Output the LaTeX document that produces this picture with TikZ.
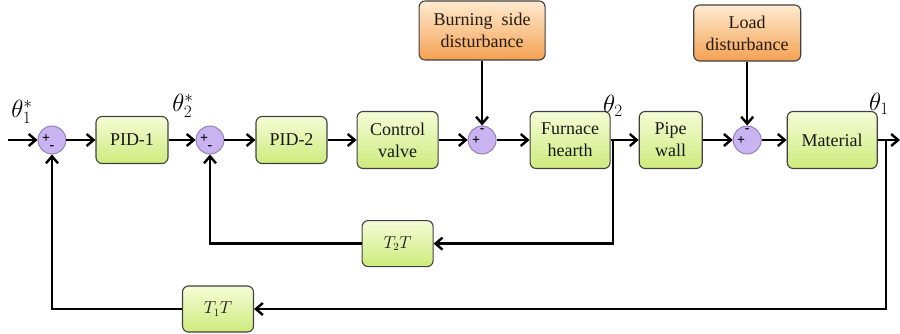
\documentclass[tikz,border=0pt]{standalone}
\usepackage{fontspec}
\setmainfont{Liberation Serif}
\newfontfamily\blkfont{Liberation Serif}
\usepackage{amsmath}
\usepackage{xcolor}
\usepackage{tikz}
\usetikzlibrary{arrows.meta, positioning, shapes.geometric}

\definecolor{blktop}{HTML}{F6FCD6}
\definecolor{blkbot}{HTML}{CDEB7C}
\definecolor{disttop}{HTML}{FEEBD0}
\definecolor{distbot}{HTML}{F4A152}
\definecolor{sumfill}{HTML}{C9B4F1}
\definecolor{sumedge}{HTML}{8C7BAE}

\begin{document}
\begin{tikzpicture}[
  x=1pt, y=-1pt,
  node distance=29pt,
  blk/.style={rectangle, draw=black!75, rounded corners=6pt, line width=1.1pt,
              top color=blktop, bottom color=blkbot, minimum height=57pt,
              align=center, inner sep=2pt, text=black!90,
              font=\blkfont\fontsize{18}{22}\selectfont},
  pidbox/.style={blk, minimum width=72pt, minimum height=47pt},
  distbox/.style={blk, top color=disttop, bottom color=distbot, text=black!80!brown},
  fbbox/.style={blk, minimum width=71pt, minimum height=46pt,
                font=\fontsize{16}{18}\selectfont},
  sumnode/.style={circle, draw=sumedge, fill=sumfill, line width=0.9pt,
                  minimum size=28pt, inner sep=0pt},
  sig/.style={inner sep=0pt, font=\bfseries\fontsize{14}{14}\selectfont},
  sigtxt/.style={inner sep=0pt, font=\fontsize{27}{27}\selectfont},
  arrow/.style={-{Straight Barb[length=7pt, width=12pt, line width=2.4pt]}, line width=2.4pt}
]
\useasboundingbox (0,0) rectangle (900,333);

% forward path
\node[sumnode] (s1) at (52,140) {};
\node[pidbox, right=29pt of s1] (pid1) {PID-1};
\node[sumnode, right=27pt of pid1] (s2) {};
\node[pidbox, minimum width=71pt, right=31pt of s2] (pid2) {PID-2};
\node[blk, minimum width=81pt, right=29pt of pid2] (valve) {Control\\valve};
\node[sumnode, right=29pt of valve] (s3) {};
\node[blk, minimum width=80pt, right=33pt of s3] (hearth) {Furnace\\hearth};
\node[blk, minimum width=63pt, right=28pt of hearth] (pipe) {Pipe\\wall};
\node[sumnode, right=30pt of pipe] (s4) {};
\node[blk, minimum width=90pt, right=25pt of s4] (mat) {Material};

% disturbances
\node[distbox, minimum width=126pt, minimum height=59pt, above=65pt of s3] (burn) {Burning\ \ side\\disturbance};
\node[distbox, minimum width=107pt, minimum height=56pt, above=64pt of s4] (load) {Load\\disturbance};

% feedback blocks
\node[fbbox, below=51pt of valve] (t2t) {$T_2T$};
\node[fbbox] (t1t) at (218,309) {$T_1T$};

% signs
\node[sig] (s1p) at ([xshift=-6pt, yshift=1pt]s1.center) {+};
\node[sig] (s1m) at ([yshift=-8pt]s1.center) {-};
\node[sig] (s2p) at ([xshift=-6pt, yshift=1pt]s2.center) {+};
\node[sig] (s2m) at ([yshift=-8pt]s2.center) {-};
\node[sig] (s3p) at ([xshift=-6pt, yshift=-1pt]s3.center) {+};
\node[sig] (s3m) at ([yshift=9pt]s3.center) {-};
\node[sig] (s4p) at ([xshift=-6pt, yshift=-1pt]s4.center) {+};
\node[sig] (s4m) at ([yshift=9pt]s4.center) {-};

% signal names
\node[sigtxt] (th1r) at (22,112) {$\theta_1^*$};
\node[sigtxt] (th2r) at (183,106) {$\theta_2^*$};
\node[sigtxt] (th2) at (613,106) {$\theta_2$};
\node[sigtxt] (th1) at (879,104) {$\theta_1$};

\coordinate (in) at (8,140);
\coordinate (out) at (900,140);
\coordinate (br2) at (613,140);
\coordinate (br1) at (886,140);

\draw[arrow] (in) -- (s1);
\draw[arrow] (s1) -- (pid1);
\draw[arrow] (pid1) -- (s2);
\draw[arrow] (s2) -- (pid2);
\draw[arrow] (pid2) -- (valve);
\draw[arrow] (valve) -- (s3);
\draw[arrow] (s3) -- (hearth);
\draw[arrow] (hearth) -- (pipe);
\draw[arrow] (pipe) -- (s4);
\draw[arrow] (s4) -- (mat);
\draw[arrow] (mat) -- (out);
\draw[arrow] (burn) -- (s3);
\draw[arrow] (load) -- (s4);

% feedback loops
\draw[arrow] (br2) |- (t2t);
\draw[arrow] (t2t) -| (s2);
\draw[arrow] (br1) |- (t1t);
\draw[arrow] (t1t) -| (s1);
\end{tikzpicture}
\end{document}
